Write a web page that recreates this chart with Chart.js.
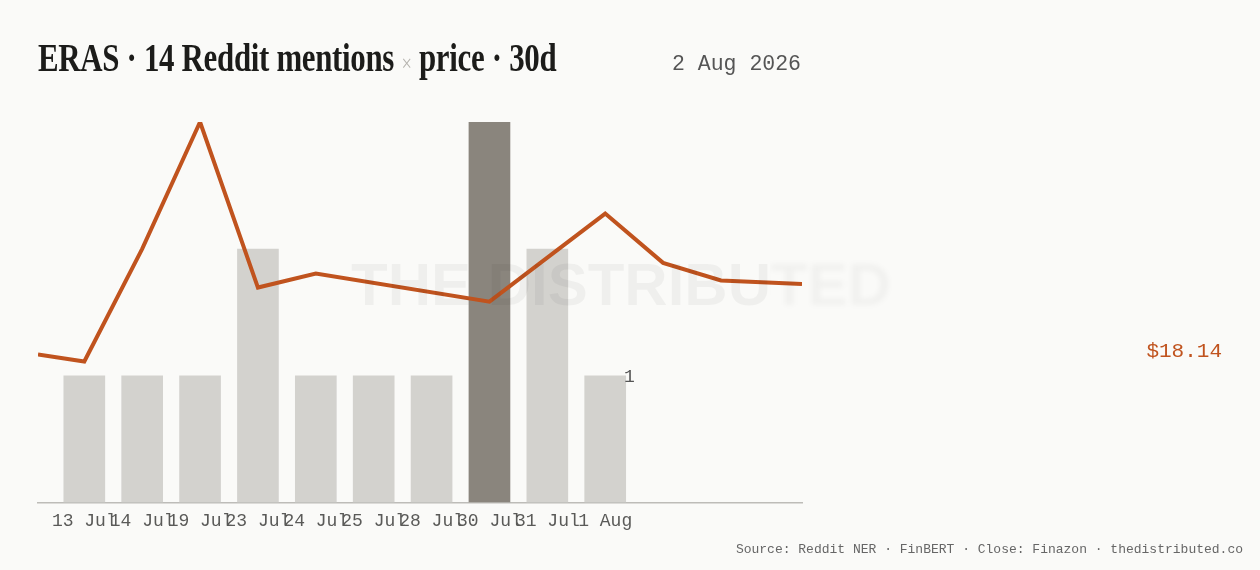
<!DOCTYPE html>
<html>
<head>
<meta charset="utf-8">
<script src="https://cdn.jsdelivr.net/npm/chart.js@4.4.1/dist/chart.umd.min.js"></script>
<style>
    html, body { margin: 0; padding: 0; background: #fafaf8; }
    .page { position: relative; width: 1260px; height: 570px; overflow: hidden; }
    .chart-box { position: absolute; left: 0; top: 0; width: 1260px; height: 570px; }
    .title {
        position: absolute; left: 38px; top: 38px; white-space: nowrap;
        font-family: "Liberation Serif", "DejaVu Serif", serif; font-weight: 700;
        font-size: 40px; line-height: 40px; color: #1c1c1a; letter-spacing: -0.4px;
        transform: scaleX(0.772); transform-origin: left top;
    }
    .title .times { font-weight: 400; font-size: 24px; color: #b5b3ae; }
    .mono { font-family: "Liberation Mono", "DejaVu Sans Mono", monospace; position: absolute; white-space: nowrap; }
    .date { right: 459px; top: 54px; font-size: 21.5px; line-height: 21px; color: #555; }
    .last-price { right: 38px; top: 341px; font-size: 21px; line-height: 21px; color: #c0531e; }
    .source { right: 17px; top: 543px; font-size: 13px; line-height: 13px; color: #666; }
</style>
</head>
<body>
<div class="page">
    <div class="chart-box"><canvas id="mentionsChart"></canvas></div>
    <div class="title">ERAS · 14 Reddit mentions <span class="times">×</span> price · 30d</div>
    <div class="mono date">2 Aug 2026</div>
    <div class="mono last-price">$18.14</div>
    <div class="mono source">Source: Reddit NER · FinBERT · Close: Finazon · thedistributed.co</div>
</div>
<script>
// mention days (bar slots)
const dayLabels = ['13 Jul', '14 Jul', '19 Jul', '23 Jul', '24 Jul', '25 Jul', '28 Jul', '30 Jul', '31 Jul', '1 Aug'];
const mentions = [1, 1, 1, 2, 1, 1, 1, 3, 2, 1];

// closing price, positioned on the same slot scale
const priceSlot = [-0.8, 0, 1, 2, 3, 4, 7, 9, 10, 11, 12.4];
const priceClose = [17.94, 17.92, 18.24, 18.60, 18.13, 18.17, 18.09, 18.34, 18.20, 18.15, 18.14];

const peak = Math.max(...mentions);
const barColors = mentions.map(m => m === peak ? '#8a857d' : '#d3d2ce');

// faint brand mark over the plot
const watermark = {
    id: 'watermark',
    afterDatasetsDraw(chart) {
        const ctx = chart.ctx;
        const x = 621, y = 305;
        ctx.save();
        ctx.font = 'bold 60px "Liberation Sans", Arial, sans-serif';
        ctx.textAlign = 'center';
        ctx.textBaseline = 'alphabetic';
        ctx.fillStyle = 'rgba(0, 0, 0, 0.045)';
        ctx.save();
        ctx.beginPath();
        ctx.rect(0, 0, 770, chart.height);
        ctx.clip();
        ctx.fillText('THE DISTRIBUTED', x, y);
        ctx.restore();
        ctx.save();
        ctx.beginPath();
        ctx.rect(770, 0, chart.width - 770, chart.height);
        ctx.clip();
        ctx.filter = 'blur(2.5px)';
        ctx.fillStyle = 'rgba(0, 0, 0, 0.035)';
        ctx.fillText('THE DISTRIBUTED', x, y);
        ctx.restore();
        ctx.restore();
    }
};

// count next to the latest bar
const lastBarLabel = {
    id: 'lastBarLabel',
    afterDatasetsDraw(chart) {
        const meta = chart.getDatasetMeta(1);
        const bar = meta.data[meta.data.length - 1];
        if (!bar) return;
        const ctx = chart.ctx;
        ctx.save();
        ctx.font = '18px "Liberation Mono", monospace';
        ctx.fillStyle = '#555';
        ctx.textAlign = 'left';
        ctx.textBaseline = 'middle';
        ctx.fillText(String(mentions[mentions.length - 1]), bar.x + bar.width / 2 - 2, bar.y + 2);
        ctx.restore();
    }
};

const ctx = document.getElementById('mentionsChart').getContext('2d');
const mentionsChart = new Chart(ctx, {
    data: {
        datasets: [{
            type: 'line',
            label: 'Close',
            data: priceSlot.map((s, i) => ({ x: s, y: priceClose[i] })),
            borderColor: '#c0531e',
            borderWidth: 4,
            pointRadius: 0,
            tension: 0,
            yAxisID: 'y1',
            order: 0
        }, {
            type: 'bar',
            label: 'Mentions',
            data: mentions.map((m, i) => ({ x: i, y: m })),
            backgroundColor: barColors,
            borderWidth: 0,
            yAxisID: 'y',
            order: 1
        }]
    },
    options: {
        responsive: true,
        maintainAspectRatio: false,
        animation: false,
        layout: {
            padding: { left: 38, right: 458, top: 122, bottom: 30 }
        },
        plugins: {
            legend: { display: false },
            tooltip: { enabled: false }
        },
        scales: {
            x: {
                type: 'linear',
                min: -0.8,
                max: 12.4,
                offset: false,
                grid: { display: false, drawTicks: false },
                border: { display: true, color: '#bdbcb8', width: 1.5 },
                ticks: {
                    stepSize: 1,
                    includeBounds: false,
                    autoSkip: false,
                    maxRotation: 0,
                    padding: 8,
                    color: '#5a5a58',
                    font: { family: '"Liberation Mono", monospace', size: 18 },
                    callback: function(value) {
                        return Number.isInteger(value) && dayLabels[value] ? dayLabels[value] : '';
                    }
                }
            },
            y: {
                display: false,
                min: 0,
                max: 3
            },
            y1: {
                display: false,
                min: 17.52,
                max: 18.60
            }
        }
    },
    plugins: [watermark, lastBarLabel]
});
</script>
</body>
</html>
